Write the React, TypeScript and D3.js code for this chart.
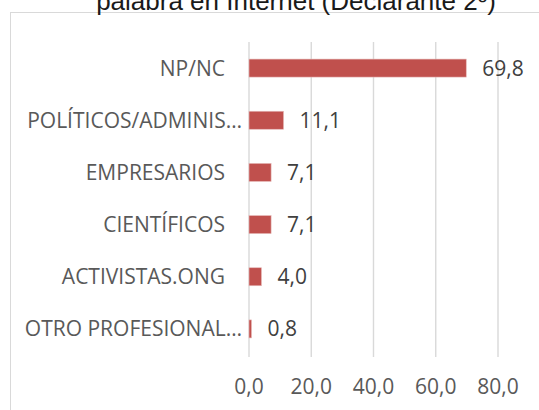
import * as d3 from "d3";

// Horizontal bar chart: who is quoted in Internet (Declarante 2º)
const categories = [
  "NP/NC",
  "POLÍTICOS/ADMINIS…",
  "EMPRESARIOS",
  "CIENTÍFICOS",
  "ACTIVISTAS.ONG",
  "OTRO PROFESIONAL…",
];
const values = [69.8, 11.1, 7.1, 7.1, 4.0, 0.8];
const ticks = [0, 20, 40, 60, 80];
const title = "palabra en Internet (Declarante 2º)";

const fmt = (v: number) => v.toFixed(1).replace(".", ",");

export default function App() {
  const width = 539;
  const height = 410;
  const plot = { left: 249, right: 498, top: 42, bottom: 355 };
  const font = "'Open Sans', Calibri, sans-serif";

  const x = d3.scaleLinear().domain([0, 80]).range([plot.left, plot.right]);
  const y = d3
    .scaleBand()
    .domain(categories)
    .range([plot.top, plot.bottom])
    .paddingInner(0.655)
    .paddingOuter(0.3275);

  return (
    <svg
      width={width}
      height={height}
      style={{ position: "absolute", left: 0, top: 0, background: "#fff" }}
    >
      {/* chart border */}
      <rect x={10.5} y={12.5} width={600} height={500} fill="none" stroke="#d9d9d9" />

      {/* title (top cut off, as in the source) */}
      <text
        x={296}
        y={9.5}
        textAnchor="middle"
        fontFamily="'Liberation Sans', Arial, sans-serif"
        fontSize={26}
        fill="#1a1a1a"
      >
        {title}
      </text>

      {/* gridlines */}
      {ticks.map((t) => (
        <line
          key={t}
          x1={x(t)}
          x2={x(t)}
          y1={plot.top}
          y2={plot.bottom + 2}
          stroke="#d9d9d9"
          strokeWidth={1.4}
        />
      ))}

      {/* bars */}
      {categories.map((c, i) => (
        <rect
          key={c}
          x={x(0)}
          y={y(c)}
          width={x(values[i]) - x(0)}
          height={y.bandwidth()}
          fill="#c0504d"
          stroke="#e6b9b8"
          strokeWidth={0.6}
        />
      ))}

      {/* value labels */}
      {categories.map((c, i) => (
        <text
          key={c}
          x={x(values[i]) + 16}
          y={(y(c) ?? 0) + y.bandwidth() / 2}
          dy="0.36em"
          fontFamily={font}
          fontSize={21}
          fill="#404040"
        >
          {fmt(values[i])}
        </text>
      ))}

      {/* category labels */}
      {categories.map((c) => (
        <text
          key={c}
          x={c.endsWith("…") ? 242 : 225}
          y={(y(c) ?? 0) + y.bandwidth() / 2}
          dy="0.36em"
          textAnchor="end"
          fontFamily={font}
          fontSize={21}
          fill="#595959"
        >
          {c}
        </text>
      ))}

      {/* x tick labels */}
      {ticks.map((t) => (
        <text
          key={t}
          x={x(t)}
          y={394}
          textAnchor="middle"
          fontFamily={font}
          fontSize={21}
          fill="#595959"
        >
          {fmt(t)}
        </text>
      ))}
    </svg>
  );
}
